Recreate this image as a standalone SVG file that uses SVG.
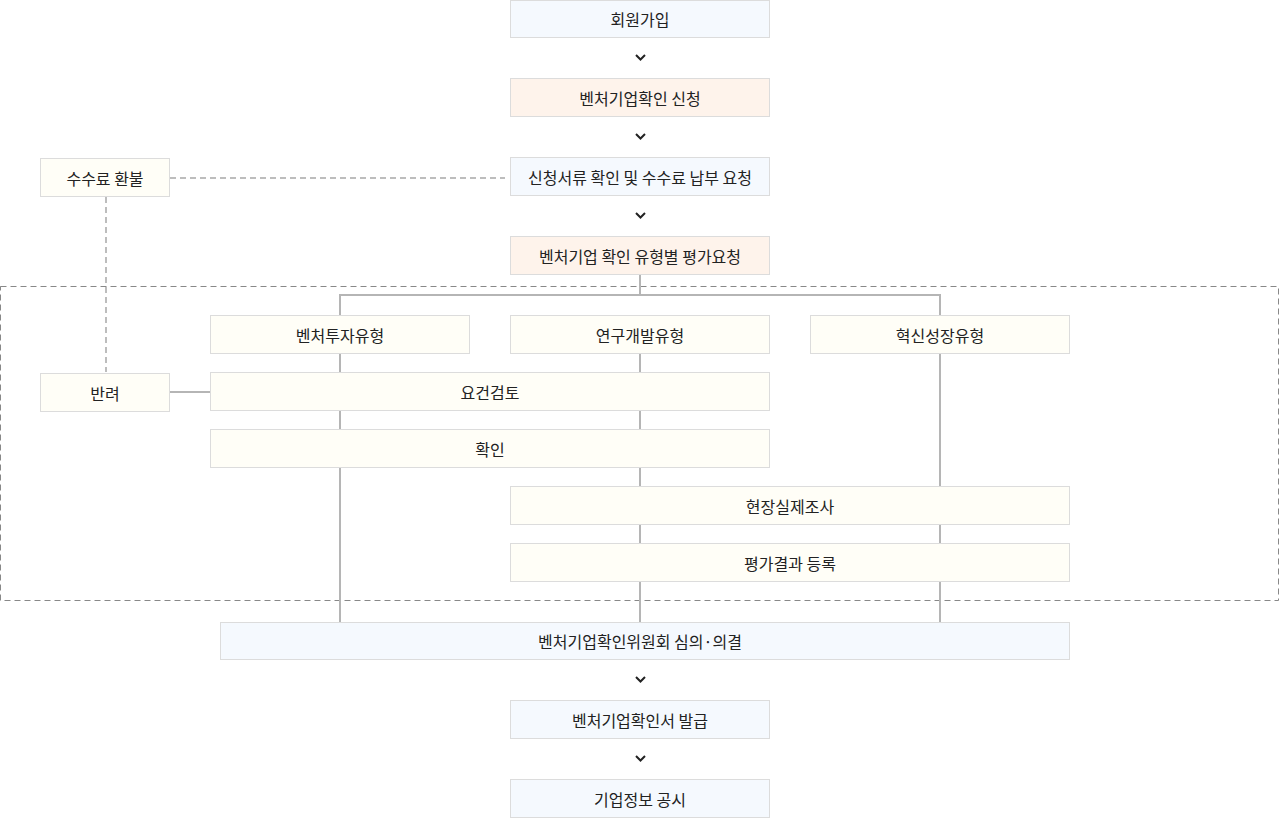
<svg xmlns="http://www.w3.org/2000/svg" width="1280" height="818" viewBox="0 0 1280 818">
<style>
.box rect{stroke:#dcdcdc;stroke-width:1}
.blue rect{fill:#f5f9fe}
.peach rect{fill:#fef3eb}
.yel rect{fill:#fffef7}
text{font-family:"Noto Sans CJK KR","Noto Sans",sans-serif;font-size:16px;fill:#222;text-anchor:middle;dominant-baseline:central}
.ln{stroke:#b5b5b5;stroke-width:2;fill:none}
.dash{stroke:#a8a8a8;stroke-width:1.5;stroke-dasharray:6 4;fill:none}
.chev{stroke:#222;stroke-width:2;fill:none}
</style>
<rect width="1280" height="818" fill="#fff"/>
<g id="connectors">
<rect x="0.5" y="286.5" width="1278" height="314" fill="none" stroke="#888" stroke-width="1" stroke-dasharray="6 4"/>
<path class="dash" d="M170 178H505M106 197V372"/>
<path class="ln" d="M640 274V295M340 315V295H940V315"/>
<path class="ln" d="M340 353V372M340 410V429M340 467V622"/>
<path class="ln" d="M640 353V372M640 410V429M640 467V486M640 524V543M640 581V622"/>
<path class="ln" d="M940 353V486M940 524V543M940 581V622"/>
<path class="ln" d="M170 392H210"/>
<path class="chev" d="M636 55L640.5 59.5L645 55M636 134L640.5 138.5L645 134M636 213L640.5 217.5L645 213M636 677L640.5 681.5L645 677M636 756L640.5 760.5L645 756"/>
</g>
<g id="n1" class="box blue"><rect x="510.5" y="0.5" width="259" height="37"/><text x="640" y="19">회원가입</text></g>
<g id="n2" class="box peach"><rect x="510.5" y="78.5" width="259" height="38"/><text x="640" y="98">벤처기업확인 신청</text></g>
<g id="n3" class="box blue"><rect x="510.5" y="157.5" width="259" height="38"/><text x="640" y="177">신청서류 확인 및 수수료 납부 요청</text></g>
<g id="n4" class="box peach"><rect x="510.5" y="236.5" width="259" height="38"/><text x="640" y="256">벤처기업 확인 유형별 평가요청</text></g>
<g id="refund" class="box yel"><rect x="40.5" y="158.5" width="129" height="38"/><text x="105" y="178">수수료 환불</text></g>
<g id="t1" class="box yel"><rect x="210.5" y="315.5" width="259" height="38"/><text x="340" y="335">벤처투자유형</text></g>
<g id="t2" class="box yel"><rect x="510.5" y="315.5" width="259" height="38"/><text x="640" y="335">연구개발유형</text></g>
<g id="t3" class="box yel"><rect x="810.5" y="315.5" width="259" height="38"/><text x="940" y="335">혁신성장유형</text></g>
<g id="reject" class="box yel"><rect x="40.5" y="373.5" width="129" height="38"/><text x="105" y="393">반려</text></g>
<g id="review" class="box yel"><rect x="210.5" y="372.5" width="559" height="38"/><text x="490" y="392">요건검토</text></g>
<g id="confirm" class="box yel"><rect x="210.5" y="429.5" width="559" height="38"/><text x="490" y="449">확인</text></g>
<g id="survey" class="box yel"><rect x="510.5" y="486.5" width="559" height="38"/><text x="790" y="506">현장실제조사</text></g>
<g id="register" class="box yel"><rect x="510.5" y="543.5" width="559" height="38"/><text x="790" y="563">평가결과 등록</text></g>
<g id="committee" class="box blue"><rect x="220.5" y="622.5" width="849" height="37"/><text x="640" y="641" textLength="204" lengthAdjust="spacingAndGlyphs">벤처기업확인위원회 심의·의결</text></g>
<g id="issue" class="box blue"><rect x="510.5" y="700.5" width="259" height="38"/><text x="640" y="720">벤처기업확인서 발급</text></g>
<g id="publish" class="box blue"><rect x="510.5" y="779.5" width="259" height="38"/><text x="640" y="799">기업정보 공시</text></g>
</svg>
